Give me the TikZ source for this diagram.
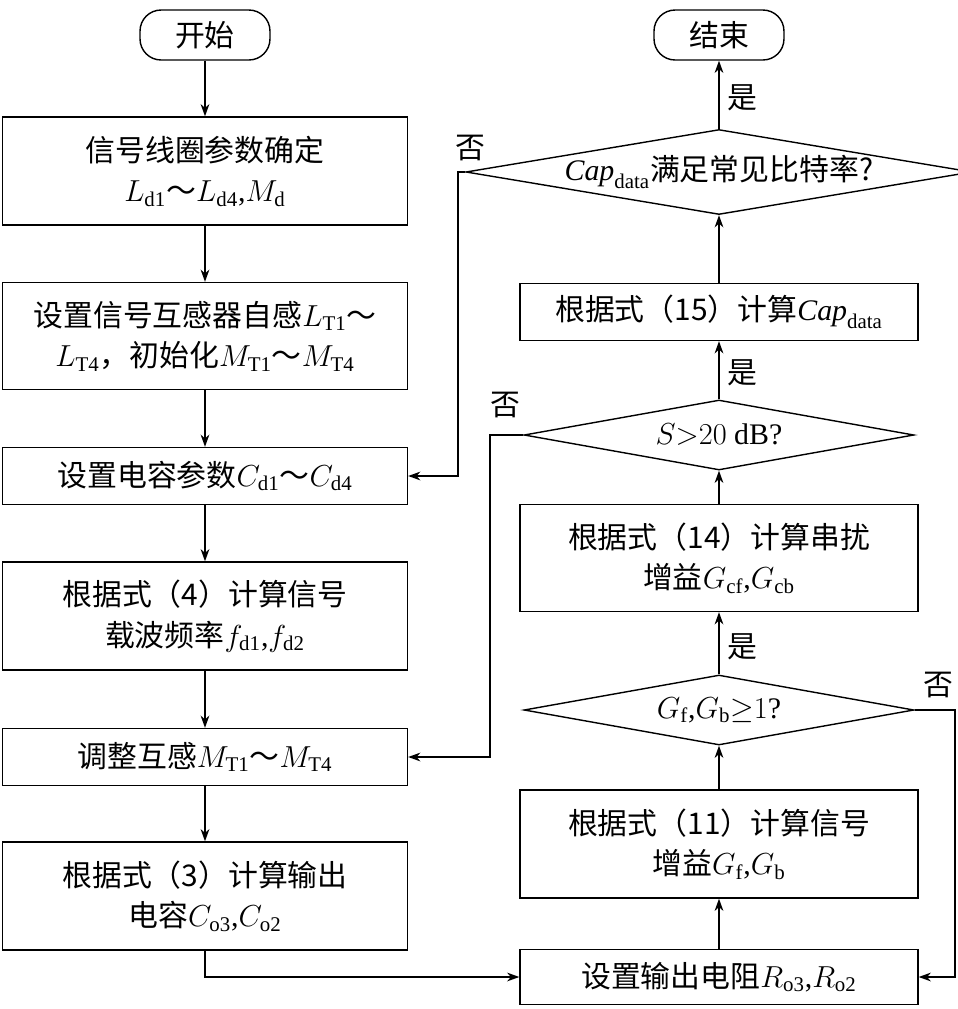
\documentclass[tikz,border=0pt]{standalone}
\usepackage{fontspec}
\setmainfont{Liberation Serif}
\newfontfamily\cjk{Noto Sans CJK SC}
\newcommand{\zh}[1]{{\cjk #1}}
\usetikzlibrary{shapes.geometric,arrows.meta}

\begin{document}
\begin{tikzpicture}[x=0.02cm,y=-0.02cm]
\tikzstyle{box}=[draw,thick,align=center,font=\fontsize{17}{23}\selectfont,inner sep=0pt]
\tikzstyle{term}=[draw,thick,rounded corners=12pt,minimum width=2.6cm,minimum height=1cm,font=\fontsize{17}{21}\selectfont]
\tikzstyle{cond}=[draw,thick,diamond,aspect=6,inner sep=0pt,font=\fontsize{17}{21}\selectfont]
\tikzstyle{flow}=[thick,-{Stealth[length=7pt,width=5pt]}]
\tikzstyle{lab}=[font=\fontsize{17}{21}\selectfont]

\useasboundingbox (0,0) rectangle (958,1009);

% left column
\node (start) [term] at (205,35) {\zh{开始}};
\node (B1) [box,minimum width=8.1cm,minimum height=2.16cm] at (205,171)
  {\zh{信号线圈参数确定}\\$L_{\mathrm{d1}}$\zh{～}$L_{\mathrm{d4}}$,$M_{\mathrm{d}}$};
\node (B2) [box,minimum width=8.1cm,minimum height=2.14cm] at (205,336)
  {\zh{设置信号互感器自感}$L_{\mathrm{T1}}$\zh{～}\\$L_{\mathrm{T4}}$\zh{，初始化}$M_{\mathrm{T1}}$\zh{～}$M_{\mathrm{T4}}$};
\node (B3) [box,minimum width=8.1cm,minimum height=1.14cm] at (205,476)
  {\zh{设置电容参数}$C_{\mathrm{d1}}$\zh{～}$C_{\mathrm{d4}}$};
\node (B4) [box,minimum width=8.1cm,minimum height=2.16cm] at (205,616)
  {\zh{根据式（4）计算信号}\\\zh{载波频率}$f_{\mathrm{d1}}$,$f_{\mathrm{d2}}$};
\node (B5) [box,minimum width=8.1cm,minimum height=1.14cm] at (205,757)
  {\zh{调整互感}$M_{\mathrm{T1}}$\zh{～}$M_{\mathrm{T4}}$};
\node (B6) [box,minimum width=8.1cm,minimum height=2.16cm] at (205,896)
  {\zh{根据式（3）计算输出}\\\zh{电容}$C_{\mathrm{o3}}$,$C_{\mathrm{o2}}$};

% right column
\node (stop) [term] at (719,35) {\zh{结束}};
\node (D1) [cond,minimum width=9.1cm,minimum height=1.7cm] at (719,172)
  {$\mathit{Cap}_{\mathrm{data}}$\zh{满足常见比特率?}};
\node (R1) [box,minimum width=7.96cm,minimum height=1.14cm] at (719,312)
  {\zh{根据式（15）计算}$\mathit{Cap}_{\mathrm{data}}$};
\node (D2) [cond,minimum width=7.8cm,minimum height=1.4cm] at (719,435)
  {$S{>}20$ dB?};
\node (R2) [box,minimum width=7.96cm,minimum height=2.14cm] at (719,558)
  {\zh{根据式（14）计算串扰}\\\zh{增益}$G_{\mathrm{cf}}$,$G_{\mathrm{cb}}$};
\node (D3) [cond,minimum width=7.8cm,minimum height=1.4cm] at (719,710)
  {$G_{\mathrm{f}}$,$G_{\mathrm{b}}{\geq}1$?};
\node (R3) [box,minimum width=7.96cm,minimum height=2.16cm] at (719,844)
  {\zh{根据式（11）计算信号}\\\zh{增益}$G_{\mathrm{f}}$,$G_{\mathrm{b}}$};
\node (R4) [box,minimum width=7.96cm,minimum height=1.1cm] at (719,977)
  {\zh{设置输出电阻}$R_{\mathrm{o3}}$,$R_{\mathrm{o2}}$};

% main flow
\draw[flow] (start) -- (B1);
\draw[flow] (B1) -- (B2);
\draw[flow] (B2) -- (B3);
\draw[flow] (B3) -- (B4);
\draw[flow] (B4) -- (B5);
\draw[flow] (B5) -- (B6);
\draw[flow] (B6.south) |- (R4.west);
\draw[flow] (R4) -- (R3);
\draw[flow] (R3) -- (D3);
\draw[flow] (D3) -- (R2) node[lab,pos=0.45,right=1pt] {\zh{是}};
\draw[flow] (R2) -- (D2);
\draw[flow] (D2) -- (R1) node[lab,pos=0.45,right=1pt] {\zh{是}};
\draw[flow] (R1) -- (D1);
\draw[flow] (D1) -- (stop) node[lab,pos=0.45,right=1pt] {\zh{是}};

% loops back
\draw[flow] (D1.west) -- (458,172) |- (B3.east);
\node[lab] at (470,148) {\zh{否}};
\draw[flow] (D2.west) -- (490,435) |- (B5.east);
\node[lab] at (505,405) {\zh{否}};
\draw[flow] (D3.east) -- (955,710) |- (R4.east);
\node[lab] at (938,685) {\zh{否}};
\end{tikzpicture}
\end{document}
